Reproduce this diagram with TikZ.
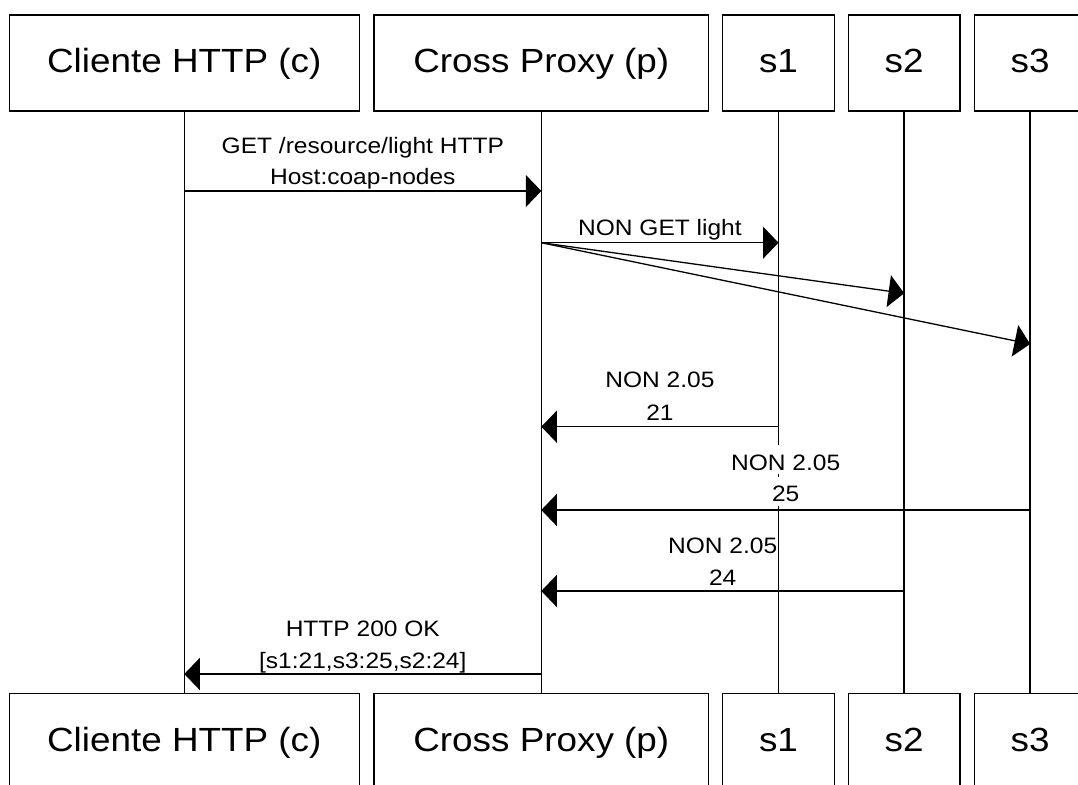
\documentclass[tikz,border=0pt]{standalone}
\usepackage{fontspec}
\setmainfont{Liberation Sans}[FakeStretch=1.1]
\usetikzlibrary{arrows.meta}
\newcommand\actorfont{\fontsize{33.5}{40}\selectfont}
\newcommand\msgfont{\fontsize{22.3}{32}\selectfont}

\begin{document}
\begin{tikzpicture}[x=1pt,y=-1pt,
  actor/.style={draw, line width=1.3pt, minimum height=96pt, inner sep=0pt,
    font=\actorfont, text height=22pt, text depth=2pt},
  lifeline/.style={line width=1.3pt},
  msg/.style={line width=1.3pt, -{Triangle[length=15.5pt,width=32pt]}},
  msglabel/.style={font=\msgfont, fill=white, inner sep=0pt,
    text height=25pt, text depth=4pt, anchor=base},
]
\useasboundingbox (0,0) rectangle (1078,784);
\clip (0,0) rectangle (1078,784);
\fill[white] (0,0) rectangle (1078,784);

% participants, top row
\node[actor, minimum width=350.3pt] (ctop)  at (184.3,63)  {Cliente HTTP (c)};
\node[actor, minimum width=334.7pt] (ptop)  at (541.3,63)  {Cross Proxy (p)};
\node[actor, minimum width=111.6pt] (s1top) at (778.5,63)  {s1};
\node[actor, minimum width=111.6pt] (s2top) at (904.1,63)  {s2};
\node[actor, minimum width=111.6pt] (s3top) at (1030.1,63) {s3};

% participants, bottom row
\node[actor, minimum width=350.3pt] (cbot)  at (184.3,741.3)  {Cliente HTTP (c)};
\node[actor, minimum width=334.7pt] (pbot)  at (541.3,741.3)  {Cross Proxy (p)};
\node[actor, minimum width=111.6pt] (s1bot) at (778.5,741.3)  {s1};
\node[actor, minimum width=111.6pt] (s2bot) at (904.1,741.3)  {s2};
\node[actor, minimum width=111.6pt] (s3bot) at (1030.1,741.3) {s3};

% lifelines
\draw[lifeline] (ctop)  -- (cbot);
\draw[lifeline] (ptop)  -- (pbot);
\draw[lifeline] (s1top) -- (s1bot);
\draw[lifeline] (s2top) -- (s2bot);
\draw[lifeline] (s3top) -- (s3bot);

% message end points on the lifelines
\coordinate (m1a) at (184.3,191);
\coordinate (m1b) at (541.3,191);
\coordinate (m2a) at (541.3,242.7);
\coordinate (m2b) at (778.5,242.7);
\coordinate (m3b) at (904.1,293.3);
\coordinate (m4b) at (1030.1,344);
\coordinate (m5a) at (778.5,426.7);
\coordinate (m5b) at (541.3,426.7);
\coordinate (m6a) at (1030.1,510);
\coordinate (m6b) at (541.3,510);
\coordinate (m7a) at (904.1,591);
\coordinate (m7b) at (541.3,591);
\coordinate (m8a) at (541.3,674);
\coordinate (m8b) at (184.3,674);

% messages
\draw[msg] (m1a) -- (m1b);
\draw[msg] (m2a) -- (m2b);
\draw[msg] (m2a) -- (m3b);
\draw[msg] (m2a) -- (m4b);
\draw[msg] (m5a) -- (m5b);
\draw[msg] (m6a) -- (m6b);
\draw[msg] (m7a) -- (m7b);
\draw[msg] (m8a) -- (m8b);

% message labels
\node[msglabel] (l1a) at (362.8,153.3) {GET /resource/light HTTP};
\node[msglabel] (l1b) at (362.8,184.5) {Host:coap-nodes};
\node[msglabel] (l2)  at (659.9,235)   {NON GET light};
\node[msglabel] (l5a) at (659.9,387.7) {NON 2.05};
\node[msglabel] (l5b) at (659.9,420)   {21};
\node[msglabel] (l6a) at (785.7,470)   {NON 2.05};
\node[msglabel] (l6b) at (785.7,501.7) {25};
\node[msglabel] (l7a) at (722.7,553.3) {NON 2.05};
\node[msglabel] (l7b) at (722.7,585)   {24};
\node[msglabel] (l8a) at (362.8,636)   {HTTP 200 OK};
\node[msglabel] (l8b) at (362.8,668.3) {[s1:21,s3:25,s2:24]};
\end{tikzpicture}
\end{document}
